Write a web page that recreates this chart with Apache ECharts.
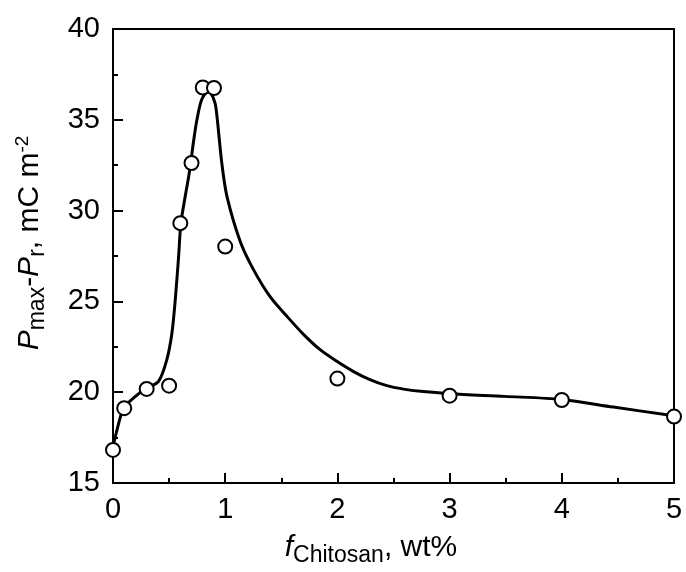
<!DOCTYPE html>
<html>
<head>
<meta charset="utf-8">
<script src="https://cdn.jsdelivr.net/npm/echarts@6/dist/echarts.min.js"></script>
<style>html,body{margin:0;padding:0;background:#fff}#c{width:686px;height:572px}</style>
</head>
<body>
<div id="c"></div>
<script>
// measured points
var pointX = [0, 0.1, 0.3, 0.5, 0.6, 0.7, 0.8, 0.9, 1.0, 2, 3, 4, 5];
var pointY = [16.82, 19.12, 20.18, 20.36, 29.31, 32.62, 36.78, 36.75, 28.02, 20.75, 19.81, 19.57, 18.66];
// fitted curve
var curveX = [0, 0.036, 0.095, 0.2, 0.3, 0.406, 0.48, 0.525, 0.555, 0.585, 0.605, 0.644, 0.68, 0.72, 0.748, 0.79, 0.846, 0.87, 0.91, 0.93, 0.97, 1.015, 1.134, 1.252, 1.40, 1.55, 1.70, 1.846, 1.995, 2.14, 2.29, 2.44, 2.59, 2.74, 3.0, 3.49, 4.0, 4.46, 5.0];
var curveY = [17.0, 17.93, 19.12, 19.77, 20.23, 20.6, 21.8, 23.25, 25.1, 27.5, 29.3, 30.8, 32.08, 33.9, 35.0, 36.1, 36.55, 36.5, 35.9, 35.0, 32.6, 30.8, 28.3, 26.75, 25.26, 24.18, 23.17, 22.34, 21.7, 21.15, 20.69, 20.36, 20.17, 20.05, 19.92, 19.77, 19.6, 19.18, 18.7];
var xTicks = [0, 1, 2, 3, 4, 5];
var yTicks = [15, 20, 25, 30, 35, 40];

var FONT = 'Liberation Sans, Arial, sans-serif';
var chart = echarts.init(document.getElementById('c'), null, {renderer: 'canvas'});
function zip(a, b) { return a.map(function (v, i) { return [v, b[i]]; }); }

var richTitle = {
  it: {fontSize: 30, fontStyle: 'italic', fontFamily: FONT, fill: '#000', color: '#000'},
  sub: {fontSize: 23, fontFamily: FONT, fill: '#000', color: '#000', padding: [16, 0, 0, 0]},
  sup: {fontSize: 19, fontFamily: FONT, fill: '#000', color: '#000', padding: [0, 0, 14, 0]},
  n: {fontSize: 30, fontFamily: FONT, fill: '#000', color: '#000'}
};

chart.setOption({
  animation: false,
  backgroundColor: '#fff',
  grid: {left: 113, right: 12, top: 29, bottom: 89, show: true, borderColor: '#000', borderWidth: 2,
         containLabel: false, outerBoundsMode: 'none'},
  xAxis: {
    type: 'value', min: xTicks[0], max: xTicks[xTicks.length - 1], interval: 1,
    axisLine: {show: true, lineStyle: {color: '#000', width: 2}},
    axisTick: {show: true, inside: true, length: 10, lineStyle: {color: '#000', width: 2}},
    minorTick: {show: true, splitNumber: 2, length: 5, lineStyle: {color: '#000', width: 2}},
    splitLine: {show: false},
    axisLabel: {color: '#000', fontSize: 29, fontFamily: FONT, margin: 12}
  },
  yAxis: {
    type: 'value', min: yTicks[0], max: yTicks[yTicks.length - 1], interval: 5,
    axisLine: {show: true, lineStyle: {color: '#000', width: 2}},
    axisTick: {show: true, inside: true, length: 10, lineStyle: {color: '#000', width: 2}},
    minorTick: {show: true, splitNumber: 2, length: 5, lineStyle: {color: '#000', width: 2}},
    splitLine: {show: false},
    axisLabel: {color: '#000', fontSize: 29, fontFamily: FONT, margin: 13}
  },
  graphic: [
    {
      type: 'text', x: 371, y: 548,
      style: {text: '{it|f}{sub|Chitosan}{n|, wt%}', rich: richTitle, align: 'center', verticalAlign: 'middle'}
    },
    {
      type: 'text', x: 30, y: 243, rotation: Math.PI / 2,
      style: {text: '{it|P}{sub|max}{n|-}{it|P}{sub|r}{n|, mC m}{sup|-2}', rich: richTitle, align: 'center', verticalAlign: 'middle'}
    }
  ],
  series: [
    {
      type: 'line', data: zip(curveX, curveY), showSymbol: false, symbol: 'none',
      smooth: 0.3,
      lineStyle: {color: '#000', width: 3}, z: 2, silent: true
    },
    {
      type: 'scatter', data: zip(pointX, pointY), symbol: 'circle', symbolSize: 14,
      itemStyle: {color: '#fff', borderColor: '#000', borderWidth: 2, opacity: 1}, z: 5
    }
  ]
});
</script>
</body>
</html>
